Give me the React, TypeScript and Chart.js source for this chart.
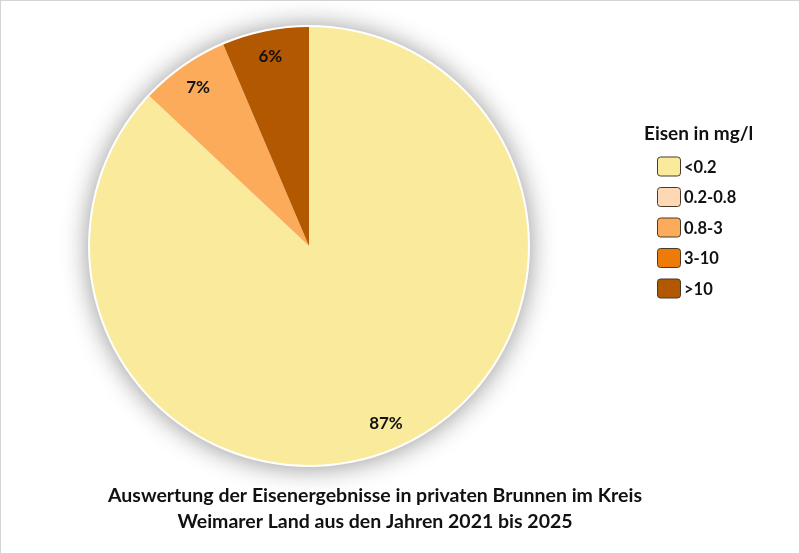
import { useEffect, useRef } from 'react';
import { Chart, registerables, Plugin } from 'chart.js';

Chart.register(...registerables);

const categories = ['<0.2', '0.2-0.8', '0.8-3', '3-10', '>10'];
const shares = [87.0, 0, 6.6, 0, 6.4];
const colors = ['#FAEB9C', '#FDD8B4', '#FCAB5B', '#EE7A08', '#B25800'];
const legendTitle = 'Eisen in mg/l';
const titleLines = [
  'Auswertung der Eisenergebnisse in privaten Brunnen im Kreis',
  'Weimarer Land aus den Jahren 2021 bis 2025',
];

const FONT = 'Lato, "Open Sans", sans-serif';

// weicher Schatten um den Kreis
const shadowPlugin: Plugin<'pie'> = {
  id: 'pieShadow',
  beforeDatasetsDraw(chart) {
    const arc: any = chart.getDatasetMeta(0).data[0];
    if (!arc) return;
    const { ctx } = chart;
    ctx.save();
    ctx.shadowColor = 'rgba(0,0,0,0.42)';
    ctx.shadowBlur = 26;
    ctx.shadowOffsetX = 0;
    ctx.shadowOffsetY = 1;
    ctx.fillStyle = '#ffffff';
    ctx.beginPath();
    ctx.arc(arc.x, arc.y, arc.outerRadius + 2, 0, Math.PI * 2);
    ctx.fill();
    ctx.restore();
  },
};

// Prozentwerte in den Segmenten
const labelPlugin: Plugin<'pie'> = {
  id: 'pieLabels',
  afterDatasetsDraw(chart) {
    const { ctx } = chart;
    const meta = chart.getDatasetMeta(0);
    ctx.save();
    ctx.font = `bold 17px ${FONT}`;
    ctx.fillStyle = '#111111';
    ctx.textAlign = 'center';
    ctx.textBaseline = 'middle';
    meta.data.forEach((el: any, i) => {
      if (!shares[i]) return;
      const mid = (el.startAngle + el.endAngle) / 2;
      const r = el.outerRadius * 0.885;
      ctx.fillText(
        `${Math.round(shares[i])}%`,
        el.x + Math.cos(mid) * r,
        el.y + Math.sin(mid) * r
      );
    });
    ctx.restore();
  },
};

// Legende rechts und Titel unten
const textPlugin: Plugin<'pie'> = {
  id: 'sideText',
  afterDraw(chart) {
    const { ctx } = chart;
    ctx.save();
    ctx.fillStyle = '#111111';
    ctx.textBaseline = 'alphabetic';

    ctx.font = `bold 19px ${FONT}`;
    ctx.textAlign = 'left';
    ctx.fillText(legendTitle, 643, 138.5);

    ctx.font = `bold 16.5px ${FONT}`;
    categories.forEach((c, i) => {
      const y = 165.5 + i * 30.5;
      ctx.beginPath();
      ctx.roundRect(656.5, y - 9.5, 23, 19, 3);
      ctx.fillStyle = colors[i];
      ctx.fill();
      ctx.strokeStyle = '#4a3a2a';
      ctx.lineWidth = 1;
      ctx.stroke();
      ctx.fillStyle = '#111111';
      ctx.fillText(c, 683, y + 6);
    });

    ctx.font = `bold 19.5px ${FONT}`;
    ctx.textAlign = 'center';
    titleLines.forEach((t, i) => {
      ctx.fillText(t, 374, 501 + i * 26);
    });
    ctx.restore();
  },
};

export default function App() {
  const canvasRef = useRef<HTMLCanvasElement>(null);

  useEffect(() => {
    document.body.style.margin = '0';
    if (!canvasRef.current) return;

    const chart = new Chart(canvasRef.current, {
      type: 'pie',
      data: {
        labels: categories,
        datasets: [
          {
            data: shares,
            backgroundColor: colors,
            borderWidth: 0,
          },
        ],
      },
      options: {
        animation: false,
        responsive: true,
        maintainAspectRatio: false,
        layout: {
          padding: { left: 89, top: 26, right: 271, bottom: 88 },
        },
        plugins: {
          legend: { display: false },
          tooltip: { enabled: false },
        },
      },
      plugins: [shadowPlugin, labelPlugin, textPlugin],
    });

    return () => chart.destroy();
  }, []);

  return (
    <div
      style={{
        width: 800,
        height: 554,
        boxSizing: 'border-box',
        border: '1px solid #d4d4d4',
        background: '#ffffff',
      }}
    >
      <canvas ref={canvasRef} />
    </div>
  );
}
